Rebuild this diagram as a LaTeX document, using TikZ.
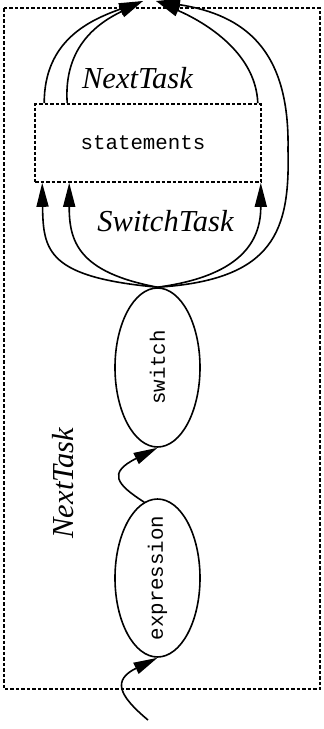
\documentclass[tikz,border=0pt]{standalone}
\usepackage{fontspec}
\setmainfont{Liberation Serif}
\setmonofont{Liberation Mono}
\usetikzlibrary{arrows.meta,shapes.geometric,calc}
\begin{document}
\begin{tikzpicture}[x=1pt,y=1pt,
  edge/.style={line width=1.6pt,-{Triangle[length=24pt,width=12pt]}},
  dbox/.style={draw,dash pattern=on 3.5pt off 2pt,line width=1.6pt},
  oval/.style={draw,ellipse,line width=1.6pt,minimum width=85pt,minimum height=159pt,inner sep=0pt},
  code/.style={font=\fontsize{20.8}{24}\selectfont\ttfamily},
  lab/.style={font=\fontsize{30.5}{36}\selectfont\itshape}]
\clip (0,0) rectangle (324,-729);
\draw[dbox] (4,-8) rectangle (320,-689);
% nodes
\node[dbox,minimum width=226pt,minimum height=78pt,inner sep=0pt] (st) at (148,-143) {};
\node[code] (stt) at (143,-143) {statements};
\node[oval] (sw) at (157.5,-367.5) {};
\node[code,rotate=90] (swt) at (sw) {switch};
\node[oval,minimum height=158pt] (ex) at (157.5,-578) {};
\node[code,rotate=90] (ext) at (ex) {expression};
% coordinates
\coordinate (in0) at (148,-720);
\coordinate (outL) at (143,-1);
\coordinate (outR) at (156,-1);
\coordinate (sb1) at ($(st.south west)+(8,0)$);
\coordinate (sb2) at ($(st.south west)+(35,0)$);
\coordinate (sb3) at ($(st.south east)+(-1,0)$);
\coordinate (st1) at ($(st.north west)+(10,0)$);
\coordinate (st2) at ($(st.north west)+(33,0)$);
\coordinate (st3) at ($(st.north east)+(-4,0)$);
% edges
\draw[edge] (in0) .. controls +(-30,25) and +(-45,-22) .. (ex.south);
\draw[edge] (ex.100) .. controls +(-28,18) and +(-50,-25) .. (sw.south);
\draw[edge] (sw.north) .. controls +(-110,10) and +(1,-68) .. (sb1);
\draw[edge] (sw.north) .. controls +(-80,15) and +(0,-58) .. (sb2);
\draw[edge] (sw.north) .. controls +(90,12) and +(0,-53) .. (sb3);
\draw[edge] (sw.north) .. controls (275,-280) and (290,-230) .. (288,-150) .. controls (290,-50) and (245,-15) .. (outR);
\draw[edge] (st1) .. controls +(0,63) and +(-53,-19) .. (outL);
\draw[edge] (st2) .. controls +(-4,58) and +(-43,-21) .. (outL);
\draw[edge] (st3) .. controls +(-2,53) and +(44,-19) .. (outR);
% labels
\node[lab,anchor=base] (l1) at (137.5,-88) {NextTask};
\node[lab,anchor=base] (l2) at (165.5,-231) {SwitchTask};
\node[lab,anchor=base,rotate=90] (l3) at (73,-483) {NextTask};
\end{tikzpicture}
\end{document}
